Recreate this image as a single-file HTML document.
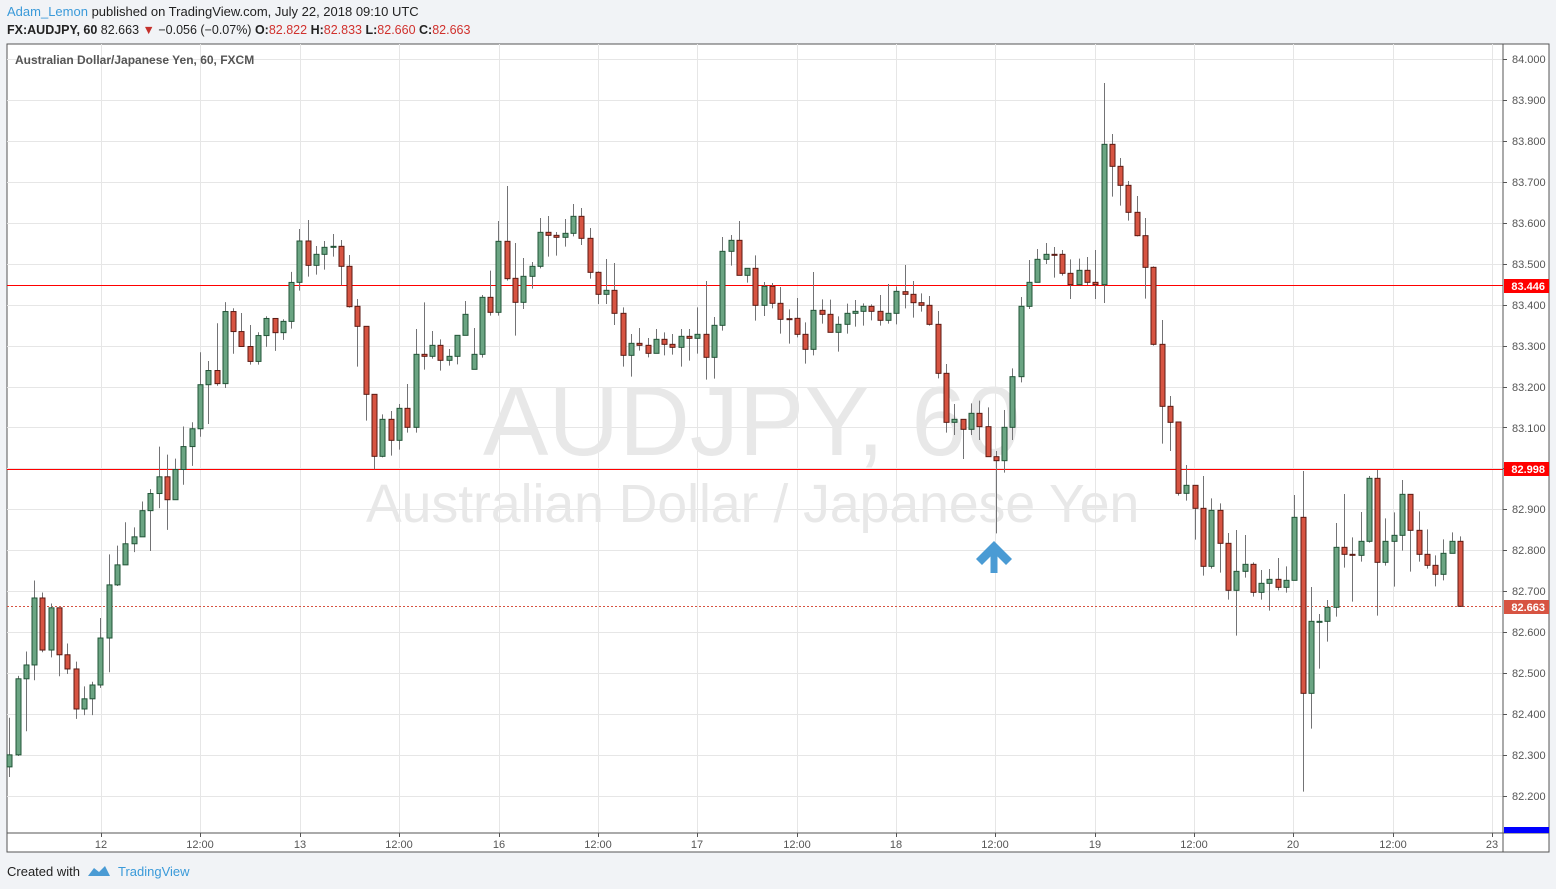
<!DOCTYPE html>
<html><head><meta charset="utf-8"><style>
html,body{margin:0;padding:0;background:#f1f3f6;width:1556px;height:889px;overflow:hidden;font-family:"Liberation Sans",sans-serif}
svg{position:absolute;left:0;top:0}
</style></head><body>
<svg id="s" width="1556" height="889" xmlns="http://www.w3.org/2000/svg" font-family="Liberation Sans, sans-serif">
<rect x="0" y="0" width="1556" height="889" fill="#f1f3f6"/>
<rect x="7" y="44" width="1542" height="808" fill="#fff" stroke="#555" stroke-width="1"/>
<g id="grid" stroke="#e6e6e6" stroke-width="1"></g>
<text x="483" y="455" font-size="98" fill="#e8e8e8">AUDJPY, 60</text>
<text x="366" y="522" font-size="53.5" fill="#e8e8e8">Australian Dollar / Japanese Yen</text>
<line x1="7" y1="285.5" x2="1503" y2="285.5" stroke="#ff0000" stroke-width="1"/>
<line x1="7" y1="469.5" x2="1503" y2="469.5" stroke="#ff0000" stroke-width="1"/>
<line x1="7" y1="606.5" x2="1503" y2="606.5" stroke="#d75442" stroke-width="1" stroke-dasharray="2,2"/>
<g id="c"></g>
<g fill="#4a9bd4">
<polygon points="994,541 1012,559 1006,565 994,553 982,565 976,559"/>
<rect x="990.5" y="551" width="7" height="22"/>
</g>
<line x1="1503" y1="44" x2="1503" y2="852" stroke="#555"/>
<line x1="7" y1="833" x2="1549" y2="833" stroke="#555"/>
<g id="ax" font-size="11" fill="#555"></g>
<rect x="1504" y="279" width="45" height="14" fill="#ff0000"/>
<text x="1545" y="290" font-size="11" font-weight="bold" fill="#fff" text-anchor="end">83.446</text>
<rect x="1504" y="462" width="45" height="14" fill="#ff0000"/>
<text x="1545" y="473" font-size="11" font-weight="bold" fill="#fff" text-anchor="end">82.998</text>
<rect x="1504" y="600" width="45" height="14" fill="#d75442"/>
<text x="1545" y="611" font-size="11" font-weight="bold" fill="#fff" text-anchor="end">82.663</text>
<rect x="1504" y="827" width="45" height="6" fill="#0000ff"/>
<text x="15" y="64" font-size="12" font-weight="bold" fill="#555">Australian Dollar/Japanese Yen, 60, FXCM</text>
<text x="7" y="16" font-size="13"><tspan fill="#3a9ad9">Adam_Lemon</tspan><tspan fill="#222"> published on TradingView.com, July 22, 2018 09:10 UTC</tspan></text>
<text x="7" y="34" font-size="12.5" fill="#222"><tspan font-weight="bold">FX:AUDJPY, 60</tspan> 82.663 <tspan fill="#c4302b">▼</tspan> −0.056 (−0.07%) <tspan font-weight="bold">O:</tspan><tspan fill="#d0312d">82.822</tspan> <tspan font-weight="bold">H:</tspan><tspan fill="#d0312d">82.833</tspan> <tspan font-weight="bold">L:</tspan><tspan fill="#d0312d">82.660</tspan> <tspan font-weight="bold">C:</tspan><tspan fill="#d0312d">82.663</tspan></text>
<text x="7" y="876" font-size="13" fill="#222">Created with</text>
<g fill="#4a9bd4"><path d="M88 876 l6-8 5 4 6-6 5 10z"/></g>
<text x="118" y="876" font-size="13" fill="#3a9ad9">TradingView</text>
<text x="101" y="848" font-size="11" fill="#555" text-anchor="middle">12</text>
<text x="200" y="848" font-size="11" fill="#555" text-anchor="middle">12:00</text>
<text x="300" y="848" font-size="11" fill="#555" text-anchor="middle">13</text>
<text x="399" y="848" font-size="11" fill="#555" text-anchor="middle">12:00</text>
<text x="499" y="848" font-size="11" fill="#555" text-anchor="middle">16</text>
<text x="598" y="848" font-size="11" fill="#555" text-anchor="middle">12:00</text>
<text x="697" y="848" font-size="11" fill="#555" text-anchor="middle">17</text>
<text x="797" y="848" font-size="11" fill="#555" text-anchor="middle">12:00</text>
<text x="896" y="848" font-size="11" fill="#555" text-anchor="middle">18</text>
<text x="995" y="848" font-size="11" fill="#555" text-anchor="middle">12:00</text>
<text x="1095" y="848" font-size="11" fill="#555" text-anchor="middle">19</text>
<text x="1194" y="848" font-size="11" fill="#555" text-anchor="middle">12:00</text>
<text x="1293" y="848" font-size="11" fill="#555" text-anchor="middle">20</text>
<text x="1393" y="848" font-size="11" fill="#555" text-anchor="middle">12:00</text>
<text x="1492" y="848" font-size="11" fill="#555" text-anchor="middle">23</text>
<text x="1512" y="63" font-size="11" fill="#555">84.000</text>
<text x="1512" y="104" font-size="11" fill="#555">83.900</text>
<text x="1512" y="145" font-size="11" fill="#555">83.800</text>
<text x="1512" y="186" font-size="11" fill="#555">83.700</text>
<text x="1512" y="227" font-size="11" fill="#555">83.600</text>
<text x="1512" y="268" font-size="11" fill="#555">83.500</text>
<text x="1512" y="309" font-size="11" fill="#555">83.400</text>
<text x="1512" y="350" font-size="11" fill="#555">83.300</text>
<text x="1512" y="391" font-size="11" fill="#555">83.200</text>
<text x="1512" y="432" font-size="11" fill="#555">83.100</text>
<text x="1512" y="513" font-size="11" fill="#555">82.900</text>
<text x="1512" y="554" font-size="11" fill="#555">82.800</text>
<text x="1512" y="595" font-size="11" fill="#555">82.700</text>
<text x="1512" y="636" font-size="11" fill="#555">82.600</text>
<text x="1512" y="677" font-size="11" fill="#555">82.500</text>
<text x="1512" y="718" font-size="11" fill="#555">82.400</text>
<text x="1512" y="759" font-size="11" fill="#555">82.300</text>
<text x="1512" y="800" font-size="11" fill="#555">82.200</text>
</svg>
<script>
var NS="http://www.w3.org/2000/svg";
function el(p,t,a){var e=document.createElementNS(NS,t);for(var k in a)e.setAttribute(k,a[k]);p.appendChild(e);return e;}
var g=document.getElementById('grid');
for(var k=0;k<19;k++){var y=Math.round(59+k*40.94)+0.5;el(g,'line',{x1:7,y1:y,x2:1503,y2:y});
 el(document.getElementById('ax'),'line',{x1:1503,y1:y,x2:1507,y2:y,stroke:'#555'});}
[101,200,300,399,499,598,697,797,896,995,1095,1194,1293,1393,1492].forEach(function(x){el(g,'line',{x1:x+.5,y1:44,x2:x+.5,y2:833});el(document.getElementById('ax'),'line',{x1:x+.5,y1:833,x2:x+.5,y2:837,stroke:'#555'});});
var A=[[1530,1497,1395,1558],[1497,1288,1280,1500],[1288,1250,1213,1432],[1250,1066,1018,1292],[1066,1209,1051,1215],[1209,1093,1081,1229],[1093,1222,1093,1281],[1222,1261,1191,1275],[1261,1371,1241,1398],[1371,1343,1309,1388],[1343,1305,1296,1388],[1305,1176,1121,1313],[1176,1030,946,1270],[1030,975,922,1033],[975,917,858,975],[917,898,872,940],[898,826,801,898],[826,779,767,937],[779,733,650,819],[733,796,672,879],[796,713,683,796],[713,650,595,755],[650,601,583,703],[601,480,391,623],[480,441,415,588],[441,477,311,483],[477,279,253,489],[279,334,270,395],[334,375,283,375],[375,416,316,425],[416,345,336,425],[345,298,292,376],[298,337,298,387],[337,306,300,357],[306,199,170,326]];
var B=[[307,183,147,332],[183,256,120,290],[256,223,198,284],[223,202,183,269],[202,199,162,230],[199,259,180,316],[259,380,225,383],[379,439,357,560],[439,643,439,722],[643,829,643,868],[829,718,703,832],[718,781,693,827],[781,685,672,809],[685,742,612,758],[742,523,447,758],[523,529,367,569],[529,496,453,536],[496,541,478,572],[541,529,507,557],[529,466,466,553],[466,403,363,466],[568,523,444,568],[523,352,345,533],[352,397,272,407],[397,184,123,407],[184,296,18,302],[295,367,189,467],[367,289,234,387],[289,259,246,326],[259,157,114,265],[157,166,108,230],[166,172,156,227],[172,160,117,200],[160,109,72,169],[109,175,84,195],[175,277,144,296]];
var C=[[187,253,184,282],[253,241,147,282],[241,310,159,345],[310,436,292,470],[436,400,372,500],[400,406,354,422],[406,430,384,442],[430,388,357,430],[388,403,367,436],[403,412,372,434],[412,379,357,470],[379,385,357,452],[385,373,292,431],[373,442,213,509],[442,346,321,506],[346,124,81,362],[124,91,75,167],[91,196,33,196],[196,175,175,218],[175,286,136,332],[286,229,216,318],[229,280,219,295],[280,328,231,371],[326,326,298,401],[325,373,264,382],[373,418,337,461],[418,301,186,436],[301,313,268,341],[313,367,269,367],[367,343,319,425],[343,310,281,371],[310,304,270,350],[304,289,280,347],[289,304,283,331],[304,331,255,347],[331,310,222,341],[310,244,229,343]];
var D=[[650,658,570,700],[658,683,618,728],[683,691,655,710],[691,748,663,752],[748,895,708,910],[895,1042,867,1073],[1042,1033,987,1080],[1033,1063,1033,1152],[1063,1015,985,1080],[1015,1055,977,1095],[1055,1145,997,1145],[1145,1157,1128,1375],[1157,1057,1005,1193],[1057,905,880,1095],[905,694,666,922],[694,622,555,702],[622,553,522,622],[553,538,504,567],[538,539,516,608],[538,595,525,602],[595,629,553,672],[629,586,551,629],[586,622,546,630],[622,629,525,672],[629,208,24,684],[208,274,177,365],[274,331,249,392],[331,412,318,437],[412,482,363,484],[482,577,429,671],[577,808,574,812],[808,994,735,1106],[994,1042,963,1128]];
var E=[[-84,130,-84,137],[130,106,45,152],[106,175,106,269],[175,349,78,377],[349,181,145,356],[181,280,160,368],[280,421,249,449],[421,364,240,557],[364,343,255,383],[343,427,337,440],[427,400,360,449],[400,388,357,482],[388,412,324,421],[412,391,349,428],[391,202,135,391],[202,730,63,1025],[730,514,411,836],[514,514,492,656],[514,472,450,575],[472,292,219,500],[292,313,132,353],[313,316,262,455],[316,274,186,335],[274,85,78,278],[85,337,60,497],[337,274,205,347],[274,256,187,410],[256,133,90,302],[133,241,133,365],[241,313,184,335],[313,346,238,356],[346,373,316,409],[373,310,268,391],[310,274,247,310],[274,469,259,469]];
var all=[];
function add(arr,off,sc){arr.forEach(function(d){all.push(d.map(function(v){return off+v/sc;}));});}
add(A,210,2.7475);add(B,180,3);add(C,210,3);add(D,75,3);add(E,450,3);
var cg=document.getElementById('c');
all.forEach(function(d,i){
 var x=Math.round(9.3+i*8.29);var o=d[0],c=d[1],h=d[2],l=d[3];
 var up=c<o||(c==o&&i!=94);
 el(cg,'line',{x1:x+.5,y1:h,x2:x+.5,y2:l,stroke:'#737375','stroke-width':1});
 var t=Math.min(o,c),b=Math.max(o,c);if(b-t<1)b=t+1;
 el(cg,'rect',{x:x-2,y:t,width:5,height:b-t,fill:up?'#6ba583':'#d75442',stroke:up?'#225437':'#5b1a13','stroke-width':1});
});
</script>
</body></html>
